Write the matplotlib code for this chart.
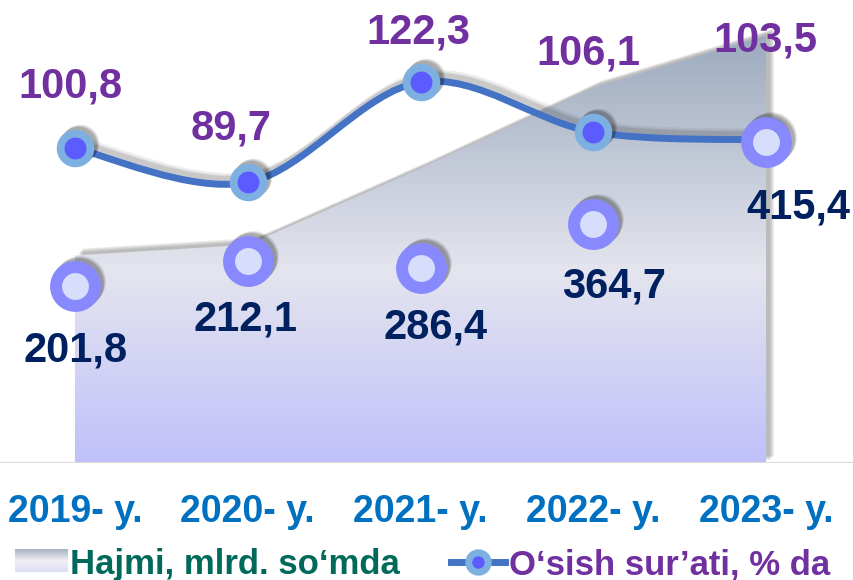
import numpy as np
import matplotlib
matplotlib.use("Agg")
import matplotlib.pyplot as plt
from matplotlib.path import Path
from matplotlib.patches import PathPatch, Polygon
from matplotlib.colors import LinearSegmentedColormap
from matplotlib.lines import Line2D
import matplotlib.transforms as mtransforms

years = ["2019- y.", "2020- y.", "2021- y.", "2022- y.", "2023- y."]
hajmi = [201.8, 212.1, 286.4, 364.7, 415.4]     # mlrd. so'm
osish = [100.8, 89.7, 122.3, 106.1, 103.5]      # % da
# the Hajmi markers do not sit on the area edge in the original
hajmi_marker = [172, 196, 190, 232, 312]

hajmi_lbl = ["201,8", "212,1", "286,4", "364,7", "415,4"]
osish_lbl = ["100,8", "89,7", "122,3", "106,1", "103,5"]

plt.rcParams['font.family'] = ['Liberation Sans', 'DejaVu Sans']
plt.rcParams['font.weight'] = 'bold'

fig = plt.figure(figsize=(8.54, 5.80), dpi=100)
rect = [0, 117 / 580, 1, 463 / 580]
ax = fig.add_axes(rect)
x = np.arange(len(years))


def shifted(base, dx, dy):
    # offset in pixels (dpi 100)
    return base + mtransforms.ScaledTranslation(dx / 100, dy / 100, fig.dpi_scale_trans)


# area with shadow + vertical gradient
verts = [(0, 0)] + list(zip(x, hajmi)) + [(x[-1], 0)]
for dx, dy in [(8, 7), (7, 6), (6, 5), (5, 4), (4, 3)]:
    ax.add_patch(Polygon(verts, closed=True, facecolor='#606060', edgecolor='none',
                         alpha=0.10, transform=shifted(ax.transData, dx, dy), zorder=1))
poly = Polygon(verts, closed=True, facecolor='none', edgecolor='none', zorder=2)
ax.add_patch(poly)
cmap = LinearSegmentedColormap.from_list(
    'area', [(0, '#c0c0fb'), (0.45, '#e4e5ee'), (1, '#9caabe')])
grad = np.linspace(0, 1, 256).reshape(-1, 1)
im = ax.imshow(grad, extent=[-0.5, 4.6, 0, max(hajmi)], origin='lower',
               aspect='auto', cmap=cmap, zorder=2)
im.set_clip_path(poly)

ax.axhline(0, color='#d9d9d9', lw=1.5, zorder=3)
ax.set_xlim(-0.434, 4.509)
ax.set_ylim(0, 450)
ax.set_xticks(x)
ax.set_xticklabels(years, fontsize=27, fontweight='bold', color='#0070C0')
ax.tick_params(axis='x', length=0, pad=22)
ax.set_yticks([])
for s in ax.spines.values():
    s.set_visible(False)
ax.patch.set_alpha(0)

# growth line (smoothed like Excel)
ax2 = fig.add_axes(rect, sharex=ax)
ax2.set_ylim(-1.5, 149)
ax2.axis('off')


def smooth_path(xs, ys):
    pts = np.column_stack([xs, ys]).astype(float)
    n = len(pts)
    vv = [pts[0]]
    cc = [Path.MOVETO]
    for i in range(n - 1):
        p0 = pts[i - 1] if i > 0 else pts[i]
        p1, p2 = pts[i], pts[i + 1]
        p3 = pts[i + 2] if i + 2 < n else pts[i + 1]
        vv += [p1 + (p2 - p0) / 6, p2 - (p3 - p1) / 6, p2]
        cc += [Path.CURVE4] * 3
    return Path(vv, cc)


lp = smooth_path(x, osish)
for dx, dy, a in [(5, 7, 0.10), (4, 5, 0.12), (3, 4, 0.12)]:
    ax2.add_patch(PathPatch(lp, facecolor='none', edgecolor='#505050', lw=6, alpha=a,
                            transform=shifted(ax2.transData, dx, dy), zorder=3))
ax2.add_patch(PathPatch(lp, facecolor='none', edgecolor='#4472C4', lw=5,
                        capstyle='round', zorder=4))
for dx, dy, a in [(5, 5, 0.10), (4, 4, 0.12), (3, 3, 0.15)]:
    ax2.plot(x, osish, 'o', ms=27, color='k', mew=0, alpha=a,
             transform=shifted(ax2.transData, dx, dy), zorder=5)
ax2.plot(x, osish, 'o', ms=21.4, mfc='#5B5BFF', mec='#7DB0E0', mew=5.6, zorder=6)

osish_off = [(-5, 51), (-17, 43), (-2, 39), (-5, 67), (-1, 88)]
for i, v in enumerate(osish):
    ax2.annotate(osish_lbl[i], (x[i], v), xytext=osish_off[i], textcoords='offset pixels',
                 ha='center', va='baseline', fontsize=30, fontweight='bold',
                 color='#7030A0', zorder=10)

# Hajmi markers + labels on top
ax3 = fig.add_axes(rect, sharex=ax)
ax3.set_ylim(0, 450)
ax3.axis('off')
for dx, dy, a in [(5, 5, 0.10), (4, 4, 0.12), (3, 3, 0.15)]:
    ax3.plot(x, hajmi_marker, 'o', ms=36.5, color='k', mew=0, alpha=a,
             transform=shifted(ax3.transData, dx, dy), zorder=5)
ax3.plot(x, hajmi_marker, 'o', ms=28, mfc='#D6DEFC', mec='#8888FF', mew=8.6, zorder=6)

hajmi_off = [(1, -75), (-2, -69), (15, -71), (21, -73), (32, -77)]
for i, v in enumerate(hajmi_marker):
    ax3.annotate(hajmi_lbl[i], (x[i], v), xytext=hajmi_off[i], textcoords='offset pixels',
                 ha='center', va='baseline', fontsize=30, fontweight='bold',
                 color='#002060', zorder=10)

# legend drawn by hand
lax = fig.add_axes([15 / 854, 8 / 580, 53 / 854, 23 / 580])
lax.imshow(np.linspace(0, 1, 64).reshape(-1, 1), cmap=LinearSegmentedColormap.from_list(
    'leg', ['#dcdcf8', '#f0f0f4', '#a8b2c2']), origin='lower', aspect='auto')
lax.axis('off')
fig.text(70 / 854, 6 / 580, "Hajmi, mlrd. so\u2018mda", fontsize=25, fontweight='bold',
         color='#006A5A', va='baseline')
fig.add_artist(Line2D([451 / 854, 505 / 854], [18 / 580, 18 / 580], color='#4472C4',
                      lw=5, transform=fig.transFigure))
fig.add_artist(Line2D([478 / 854], [18 / 580], marker='o', ms=14, mfc='#5B5BFF',
                      mec='#7DB0E0', mew=5, transform=fig.transFigure))
fig.text(509 / 854, 6 / 580, "O\u2018sish sur\u2019ati, % da", fontsize=25,
         fontweight='bold', color='#7030A0', va='baseline')

fig.savefig("out.png", dpi=100)
